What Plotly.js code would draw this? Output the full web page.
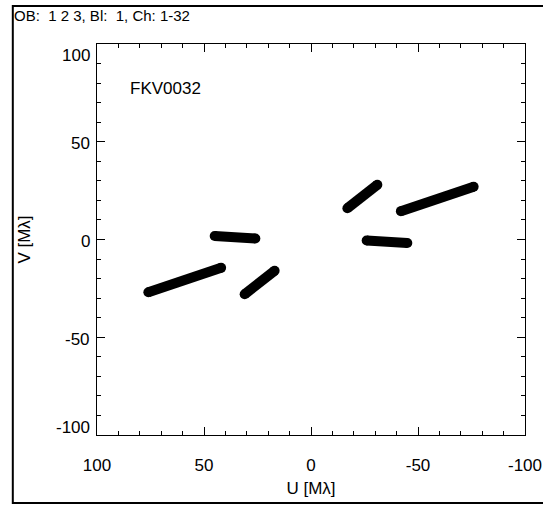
<!DOCTYPE html>
<html>
<head>
<meta charset="utf-8">
<script src="https://cdn.plot.ly/plotly-3.0.1.min.js"></script>
<style>
  html, body { margin: 0; padding: 0; background: #fff; }
  #uv { width: 543px; height: 505px; }
</style>
</head>
<body>
<div id="uv"></div>
<script>
// uv tracks (channels 1-32) for each baseline and its conjugate, in Mλ
const trackNames = ['B1', 'B2', 'B3', 'B1*', 'B2*', 'B3*'];
const trackU = [
  [-17, -31],
  [-42, -76],
  [-26, -45],
  [17, 31],
  [42, 76],
  [26, 45]
];
const trackV = [
  [16, 28],
  [14.5, 27],
  [-0.5, -1.8],
  [-16, -28],
  [-14.5, -27],
  [0.5, 1.8]
];
const axisTicks = [-100, -50, 0, 50, 100];
const axisTickText = ['-100', '-50', '0', '50', '100'];

const FONT = 'Liberation Sans, Arial, Helvetica, sans-serif';
const TICK_FONT = { family: FONT, size: 17, color: '#000' };

const traces = trackNames.map((name, i) => ({
  type: 'scatter',
  mode: 'lines+markers',
  name: name,
  x: trackU[i],
  y: trackV[i],
  line: { color: '#000', width: 10 },
  marker: { color: '#000', size: 10 },
  hoverinfo: 'x+y'
}));

const axisCommon = {
  tickmode: 'array',
  tickvals: axisTicks,
  ticktext: axisTickText,
  ticks: 'inside',
  ticklen: 8,
  tickwidth: 1,
  tickcolor: '#000',
  minor: { dtick: 10, ticks: 'inside', ticklen: 4, tickwidth: 1, tickcolor: '#000' },
  showline: true,
  linecolor: '#000',
  linewidth: 1,
  mirror: 'allticks',
  showgrid: false,
  zeroline: false,
  tickfont: TICK_FONT
};

// V tick labels: end labels are kept inside the axis span
const vLabels = axisTicks.map((v, i) => ({
  text: axisTickText[i],
  xref: 'paper', yref: 'y',
  x: 0, xshift: -5, xanchor: 'right',
  y: v,
  yanchor: i === axisTicks.length - 1 ? 'top' : (i === 0 ? 'bottom' : 'middle'),
  yshift: i === 0 ? -4 : (i === axisTicks.length - 1 ? 0 : -2),
  showarrow: false,
  font: TICK_FONT
}));

const layout = {
  width: 543,
  height: 505,
  margin: { l: 97, r: 18, t: 44, b: 70 },
  paper_bgcolor: '#fff',
  plot_bgcolor: '#fff',
  showlegend: false,
  title: {
    text: 'OB:  1 2 3, Bl:  1, Ch: 1-32',
    font: { family: FONT, size: 15, color: '#000' },
    xref: 'container', yref: 'container',
    x: 14 / 543, xanchor: 'left',
    y: 1 - 16 / 505, yanchor: 'middle'
  },
  xaxis: Object.assign({}, axisCommon, {
    range: [100, -100],
    ticklabelstandoff: 15,
    title: { text: 'U [Mλ]', font: { family: FONT, size: 17, color: '#000' }, standoff: 7 }
  }),
  yaxis: Object.assign({}, axisCommon, {
    range: [-100, 100],
    showticklabels: false,
    title: { text: 'V [Mλ]', font: { family: FONT, size: 17, color: '#000' }, standoff: 61 }
  }),
  annotations: [{
    text: 'FKV0032',
    xref: 'paper', yref: 'paper',
    x: 0.072, y: 0.887,
    xanchor: 'left', yanchor: 'middle',
    showarrow: false,
    font: { family: FONT, size: 17, color: '#000' }
  }].concat(vLabels),
  shapes: [{
    // outer page frame
    type: 'rect',
    xref: 'paper', yref: 'paper',
    x0: (13 - 97) / 427, x1: (560 - 97) / 427,
    y0: (435 - 503) / 391, y1: (435 - 6) / 391,
    line: { color: '#000', width: 2 },
    fillcolor: 'rgba(0,0,0,0)',
    layer: 'below'
  }]
};

Plotly.newPlot('uv', traces, layout, { displayModeBar: false, staticPlot: true });
</script>
</body>
</html>
